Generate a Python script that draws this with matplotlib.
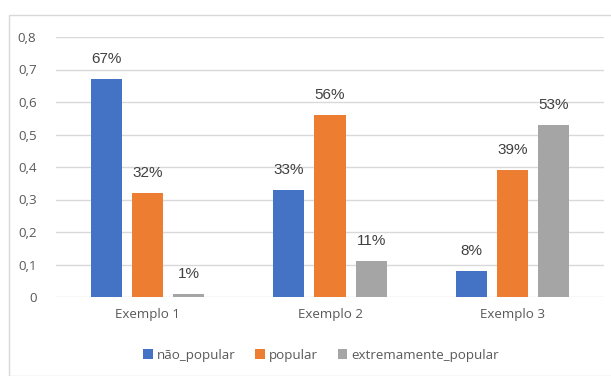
import matplotlib
matplotlib.use("Agg")
import matplotlib.pyplot as plt
from matplotlib.patches import Rectangle
import numpy as np

categories = ["Exemplo 1", "Exemplo 2", "Exemplo 3"]
series_names = ["não_popular", "popular", "extremamente_popular"]
nao_popular = [0.67, 0.33, 0.08]
popular = [0.32, 0.56, 0.39]
extremamente_popular = [0.01, 0.11, 0.53]
y_ticks = [0, 0.1, 0.2, 0.3, 0.4, 0.5, 0.6, 0.7, 0.8]
y_tick_labels = ["0", "0,1", "0,2", "0,3", "0,4", "0,5", "0,6", "0,7", "0,8"]

colors = ["#4472C4", "#ED7D31", "#A5A5A5"]
W, H = 611, 376
fig = plt.figure(figsize=(W / 100, H / 100), dpi=100)

# chart frame
fig.patches.append(Rectangle((9 / W, 0), (W - 9) / W + 0.01, (H - 15) / H,
                             transform=fig.transFigure, fill=False,
                             edgecolor="#D9D9D9", linewidth=1.0))

ax = fig.add_axes([56 / W, (H - 297) / H, (604 - 56) / W, (297 - 37) / H])
x = np.arange(len(categories))
width = 0.17
offset = 0.225
all_series = [nao_popular, popular, extremamente_popular]
tick_font = "Open Sans"
tick_size = 9.6
for i, (vals, name) in enumerate(zip(all_series, series_names)):
    pos = x + (i - 1) * offset
    ax.bar(pos, vals, width, color=colors[i], label=name, zorder=3)
    for p, v in zip(pos, vals):
        ax.text(p, v + 0.062, f"{round(v * 100)}%", ha="center", va="center",
                fontsize=11, color="#404040", family="Liberation Sans")

ax.set_xlim(-0.5, 2.5)
ax.set_ylim(0, 0.8)
ax.set_yticks(y_ticks)
ax.set_yticklabels(y_tick_labels, family=tick_font, fontsize=tick_size, color="#595959")
ax.set_xticks(x)
ax.set_xticklabels(categories, family=tick_font, fontsize=tick_size, color="#595959")
ax.tick_params(axis="both", length=0)
ax.tick_params(axis="y", pad=14)
ax.tick_params(axis="x", pad=8)
ax.grid(axis="y", color="#D9D9D9", linewidth=1.0, zorder=0)
for s in ax.spines.values():
    s.set_visible(False)

leg = fig.legend(loc="center", bbox_to_anchor=(321 / W, (H - 355) / H), ncol=3,
                 frameon=False, handlelength=0.7, handleheight=0.7,
                 handletextpad=0.3, columnspacing=1.5,
                 prop={"family": tick_font, "size": tick_size})
for t in leg.get_texts():
    t.set_color("#595959")

fig.savefig("out.png", dpi=100)
